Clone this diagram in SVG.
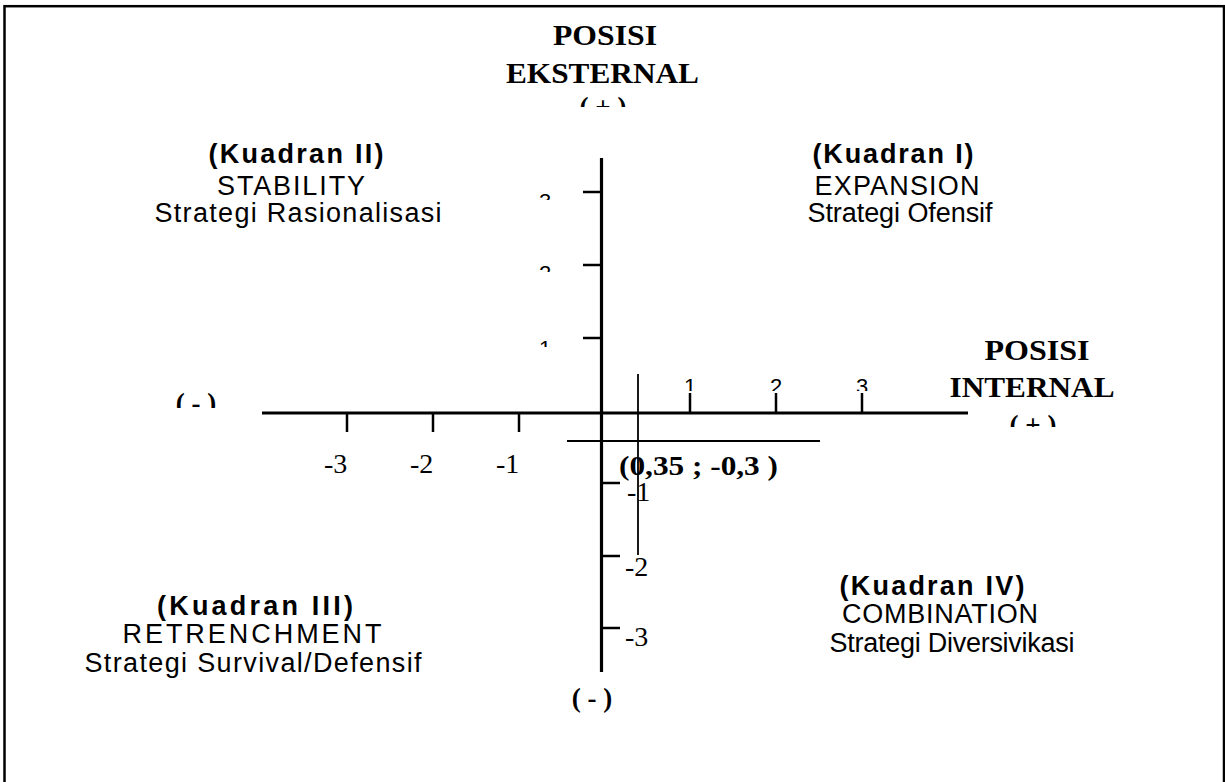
<svg xmlns="http://www.w3.org/2000/svg" width="1225" height="782" viewBox="0 0 1225 782">
<defs>
<style>
.ttl{font-family:"Liberation Serif","Times New Roman",serif;font-weight:bold;font-size:30px;fill:#000;text-anchor:middle}
.sgn{font-family:"Liberation Serif","Times New Roman",serif;font-weight:bold;font-size:27px;fill:#000;text-anchor:middle}
.num{font-family:"Liberation Serif","Times New Roman",serif;font-size:28px;fill:#000}
.tick{font-family:"Liberation Sans",Arial,sans-serif;font-size:22px;fill:#000;text-anchor:middle}
.qb{font-family:"Liberation Sans",Arial,sans-serif;font-weight:bold;font-size:27px;fill:#000;text-anchor:middle}
.qt{font-family:"Liberation Sans",Arial,sans-serif;font-size:27px;fill:#000;text-anchor:middle}
.axis{stroke:#000;stroke-width:3.2;fill:none}
.tk{stroke:#000;stroke-width:2.5;fill:none}
.thin{stroke:#000;stroke-width:1.8;fill:none}
</style>
<clipPath id="cTop"><rect x="560" y="90" width="90" height="17"/></clipPath>
<clipPath id="cRight"><rect x="990" y="405" width="90" height="22"/></clipPath>
<clipPath id="cLeft"><rect x="150" y="385" width="90" height="23"/></clipPath>
<clipPath id="cY3"><rect x="530" y="185" width="30" height="15"/></clipPath>
<clipPath id="cY2"><rect x="530" y="258" width="30" height="14"/></clipPath>
<clipPath id="cY1"><rect x="530" y="333" width="30" height="14"/></clipPath>
<clipPath id="cX"><rect x="670" y="370" width="220" height="21"/></clipPath>
</defs>
<rect x="4.5" y="6.2" width="1219.5" height="800" fill="#fff" stroke="#000" stroke-width="2.5"/>

<g id="connectors">
<line class="axis" x1="262" y1="413" x2="968" y2="413"/>
<line class="axis" x1="601.5" y1="158" x2="601.5" y2="672"/>
<line class="tk" x1="583" y1="192" x2="601" y2="192"/>
<line class="tk" x1="583" y1="265" x2="601" y2="265"/>
<line class="tk" x1="583" y1="338" x2="601" y2="338"/>
<line class="tk" x1="601" y1="483" x2="620" y2="483"/>
<line class="tk" x1="601" y1="556" x2="620" y2="556"/>
<line class="tk" x1="601" y1="628" x2="620" y2="628"/>
<line class="tk" x1="347" y1="413" x2="347" y2="432"/>
<line class="tk" x1="433" y1="413" x2="433" y2="432"/>
<line class="tk" x1="519" y1="413" x2="519" y2="432"/>
<line class="tk" x1="690" y1="393" x2="690" y2="413"/>
<line class="tk" x1="776" y1="393" x2="776" y2="413"/>
<line class="tk" x1="862" y1="393" x2="862" y2="413"/>
<line class="thin" x1="638" y1="374" x2="638" y2="555"/>
<line class="thin" x1="567" y1="441" x2="820" y2="441"/>
</g>

<g id="axis-labels">
<text class="ttl" x="605" y="45" textLength="104" lengthAdjust="spacingAndGlyphs">POSISI</text>
<text class="ttl" x="602.5" y="83" textLength="193" lengthAdjust="spacingAndGlyphs">EKSTERNAL</text>
<text class="sgn" x="603" y="116" clip-path="url(#cTop)" xml:space="preserve">( + )</text>
<text class="ttl" x="1037" y="360" textLength="105" lengthAdjust="spacingAndGlyphs">POSISI</text>
<text class="ttl" x="1032" y="397" textLength="165" lengthAdjust="spacingAndGlyphs">INTERNAL</text>
<text class="sgn" x="1033" y="434" clip-path="url(#cRight)" xml:space="preserve">( + )</text>
<text class="sgn" x="196" y="412" clip-path="url(#cLeft)" xml:space="preserve">( - )</text>
<text class="sgn" x="592" y="707" xml:space="preserve">( - )</text>
</g>

<g id="tick-labels">
<text class="tick" x="545" y="209" clip-path="url(#cY3)">3</text>
<text class="tick" x="545" y="281" clip-path="url(#cY2)">2</text>
<text class="tick" x="545" y="356" clip-path="url(#cY1)">1</text>
<text class="tick" x="690" y="394" clip-path="url(#cX)">1</text>
<text class="tick" x="776" y="394" clip-path="url(#cX)">2</text>
<text class="tick" x="862" y="394" clip-path="url(#cX)">3</text>
<text class="num" x="324" y="473">-3</text>
<text class="num" x="410" y="473">-2</text>
<text class="num" x="496" y="473">-1</text>
<text class="num" x="627" y="501">-1</text>
<text class="num" x="625" y="576">-2</text>
<text class="num" x="625" y="646">-3</text>
</g>

<g id="point">
<text x="619" y="475" font-family="Liberation Serif, Times New Roman, serif" font-weight="bold" font-size="28" textLength="159" lengthAdjust="spacingAndGlyphs" xml:space="preserve">(0,35 ; -0,3 )</text>
</g>

<g id="kuadran-2">
<text class="qb" x="296" y="163" textLength="175" lengthAdjust="spacing">(Kuadran II)</text>
<text class="qt" x="291" y="195" textLength="148" lengthAdjust="spacing">STABILITY</text>
<text class="qt" x="298" y="222" textLength="287" lengthAdjust="spacing">Strategi Rasionalisasi</text>
</g>
<g id="kuadran-1">
<text class="qb" x="893" y="163" textLength="161" lengthAdjust="spacing">(Kuadran I)</text>
<text class="qt" x="897" y="195" textLength="165" lengthAdjust="spacing">EXPANSION</text>
<text class="qt" x="900" y="222" textLength="185" lengthAdjust="spacing">Strategi Ofensif</text>
</g>
<g id="kuadran-3">
<text class="qb" x="255" y="615" textLength="196" lengthAdjust="spacing">(Kuadran III)</text>
<text class="qt" x="252" y="643" textLength="259" lengthAdjust="spacing">RETRENCHMENT</text>
<text class="qt" x="253" y="672" textLength="337" lengthAdjust="spacing">Strategi Survival/Defensif</text>
</g>
<g id="kuadran-4">
<text class="qb" x="932" y="595" textLength="185" lengthAdjust="spacing">(Kuadran IV)</text>
<text class="qt" x="940" y="623" textLength="196" lengthAdjust="spacing">COMBINATION</text>
<text class="qt" x="952" y="652" textLength="245" lengthAdjust="spacing">Strategi Diversivikasi</text>
</g>
</svg>
